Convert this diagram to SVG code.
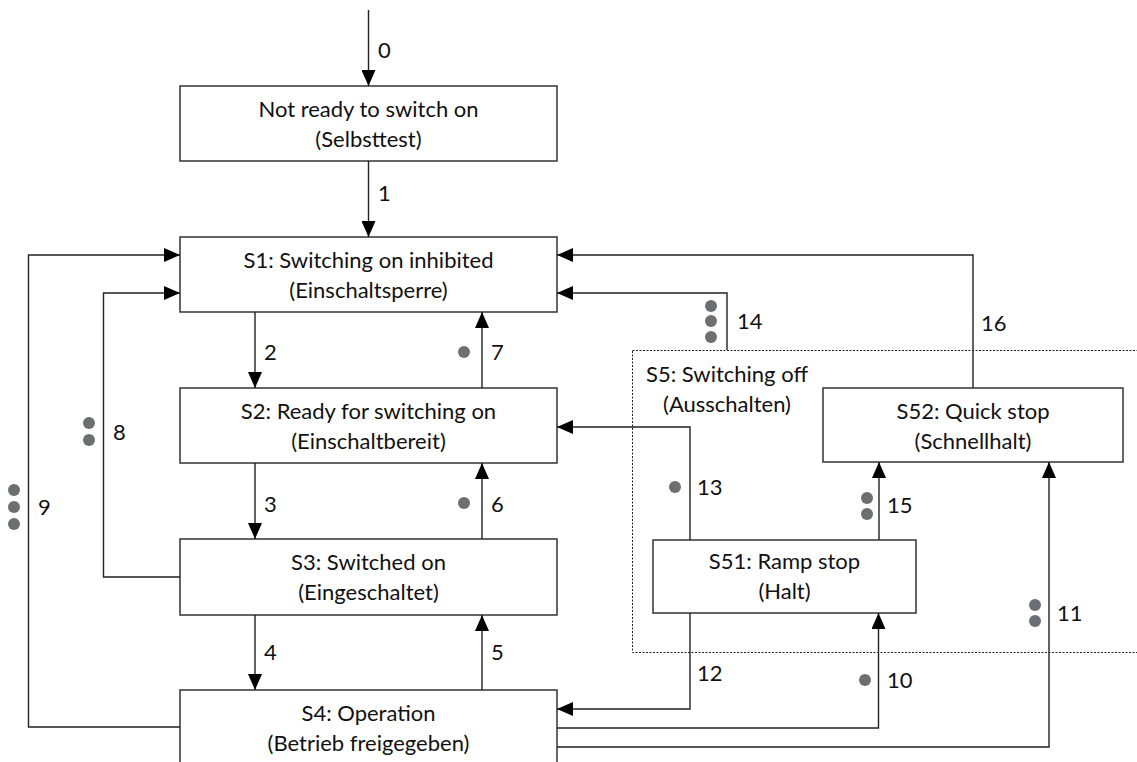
<svg xmlns="http://www.w3.org/2000/svg" width="1137" height="762" viewBox="0 0 1137 762">
<style>
.box{fill:#fff;stroke:#333;stroke-width:1.5}
.t{font-family:Lato,"Liberation Sans",sans-serif;font-size:22px;fill:#111;text-anchor:middle}
.l{font-family:Lato,"Liberation Sans",sans-serif;font-size:22px;fill:#111}
.c{fill:none;stroke:#222;stroke-width:1.4}
.dot{fill:#6d6e72}
.region{fill:none;stroke:#222;stroke-width:1;stroke-dasharray:2,1.5}
</style>
<defs>
<marker id="ah" markerUnits="userSpaceOnUse" viewBox="0 0 16 14" refX="16" refY="7" markerWidth="16" markerHeight="14" orient="auto">
<path d="M0,0 L16,7 L0,14 z" fill="#000"/>
</marker>
</defs>
<rect width="1137" height="762" fill="#fff"/>

<g id="S5">
<rect class="region" x="632.5" y="350.5" width="520" height="302"/>
<text class="t" x="727" y="382">S5: Switching off</text>
<text class="t" x="727" y="412">(Ausschalten)</text>
</g>

<g id="N0">
<rect class="box" x="180" y="86" width="377" height="75"/>
<text class="t" x="368.5" y="117">Not ready to switch on</text>
<text class="t" x="368.5" y="147">(Selbsttest)</text>
</g>
<g id="S1">
<rect class="box" x="180" y="237" width="377" height="75"/>
<text class="t" x="368.5" y="268">S1: Switching on inhibited</text>
<text class="t" x="368.5" y="298">(Einschaltsperre)</text>
</g>
<g id="S2">
<rect class="box" x="180" y="388" width="377" height="75"/>
<text class="t" x="368.5" y="419">S2: Ready for switching on</text>
<text class="t" x="368.5" y="449">(Einschaltbereit)</text>
</g>
<g id="S3">
<rect class="box" x="180" y="539" width="377" height="76"/>
<text class="t" x="368.5" y="570">S3: Switched on</text>
<text class="t" x="368.5" y="600">(Eingeschaltet)</text>
</g>
<g id="S4">
<rect class="box" x="180" y="690" width="377" height="90"/>
<text class="t" x="368.5" y="721">S4: Operation</text>
<text class="t" x="368.5" y="751">(Betrieb freigegeben)</text>
</g>
<g id="S52">
<rect class="box" x="823" y="388" width="300" height="74"/>
<text class="t" x="973" y="419">S52: Quick stop</text>
<text class="t" x="973" y="449">(Schnellhalt)</text>
</g>
<g id="S51">
<rect class="box" x="653" y="540" width="263" height="73"/>
<text class="t" x="784.5" y="569">S51: Ramp stop</text>
<text class="t" x="784.5" y="599">(Halt)</text>
</g>

<g id="connectors">
<path class="c" marker-end="url(#ah)" d="M368.5,10 V86"/>
<path class="c" marker-end="url(#ah)" d="M368.5,161 V237"/>
<path class="c" marker-end="url(#ah)" d="M255,312 V388"/>
<path class="c" marker-end="url(#ah)" d="M482,388 V312"/>
<path class="c" marker-end="url(#ah)" d="M255,463 V539"/>
<path class="c" marker-end="url(#ah)" d="M482,539 V463"/>
<path class="c" marker-end="url(#ah)" d="M255,615 V690"/>
<path class="c" marker-end="url(#ah)" d="M482,690 V615"/>
<path class="c" marker-end="url(#ah)" d="M180,577 H103.5 V293 H180"/>
<path class="c" marker-end="url(#ah)" d="M180,727 H28.5 V255 H180"/>
<path class="c" marker-end="url(#ah)" d="M973,388 V255 H557"/>
<path class="c" marker-end="url(#ah)" d="M727,350 V293 H557"/>
<path class="c" marker-end="url(#ah)" d="M690,540 V427 H557"/>
<path class="c" marker-end="url(#ah)" d="M879,540 V462"/>
<path class="c" marker-end="url(#ah)" d="M690,613 V709 H557"/>
<path class="c" marker-end="url(#ah)" d="M557,728 H878.5 V613"/>
<path class="c" marker-end="url(#ah)" d="M557,747 H1049 V462"/>
</g>

<g id="labels">
<text class="l" x="378" y="58">0</text>
<text class="l" x="378" y="201">1</text>
<text class="l" x="264" y="360">2</text>
<text class="l" x="491" y="360">7</text>
<circle class="dot" cx="464" cy="352" r="6"/>
<text class="l" x="264" y="512">3</text>
<text class="l" x="491" y="512">6</text>
<circle class="dot" cx="464" cy="503" r="6"/>
<text class="l" x="264" y="660">4</text>
<text class="l" x="491" y="660">5</text>
<circle class="dot" cx="89" cy="423" r="6"/>
<circle class="dot" cx="89" cy="440" r="6"/>
<text class="l" x="113" y="440">8</text>
<circle class="dot" cx="14" cy="490" r="6"/>
<circle class="dot" cx="14" cy="507" r="6"/>
<circle class="dot" cx="14" cy="524" r="6"/>
<text class="l" x="38" y="515">9</text>
<circle class="dot" cx="711" cy="306" r="6"/>
<circle class="dot" cx="711" cy="321" r="6"/>
<circle class="dot" cx="711" cy="337" r="6"/>
<text class="l" x="737" y="329">14</text>
<text class="l" x="981" y="331">16</text>
<circle class="dot" cx="675" cy="487" r="6"/>
<text class="l" x="697" y="495">13</text>
<circle class="dot" cx="867" cy="498" r="6"/>
<circle class="dot" cx="867" cy="514" r="6"/>
<text class="l" x="887" y="513">15</text>
<text class="l" x="697" y="681">12</text>
<circle class="dot" cx="865" cy="680" r="6"/>
<text class="l" x="887" y="688">10</text>
<circle class="dot" cx="1035" cy="605" r="6"/>
<circle class="dot" cx="1035" cy="621" r="6"/>
<text class="l" x="1057" y="621">11</text>
</g>
</svg>
